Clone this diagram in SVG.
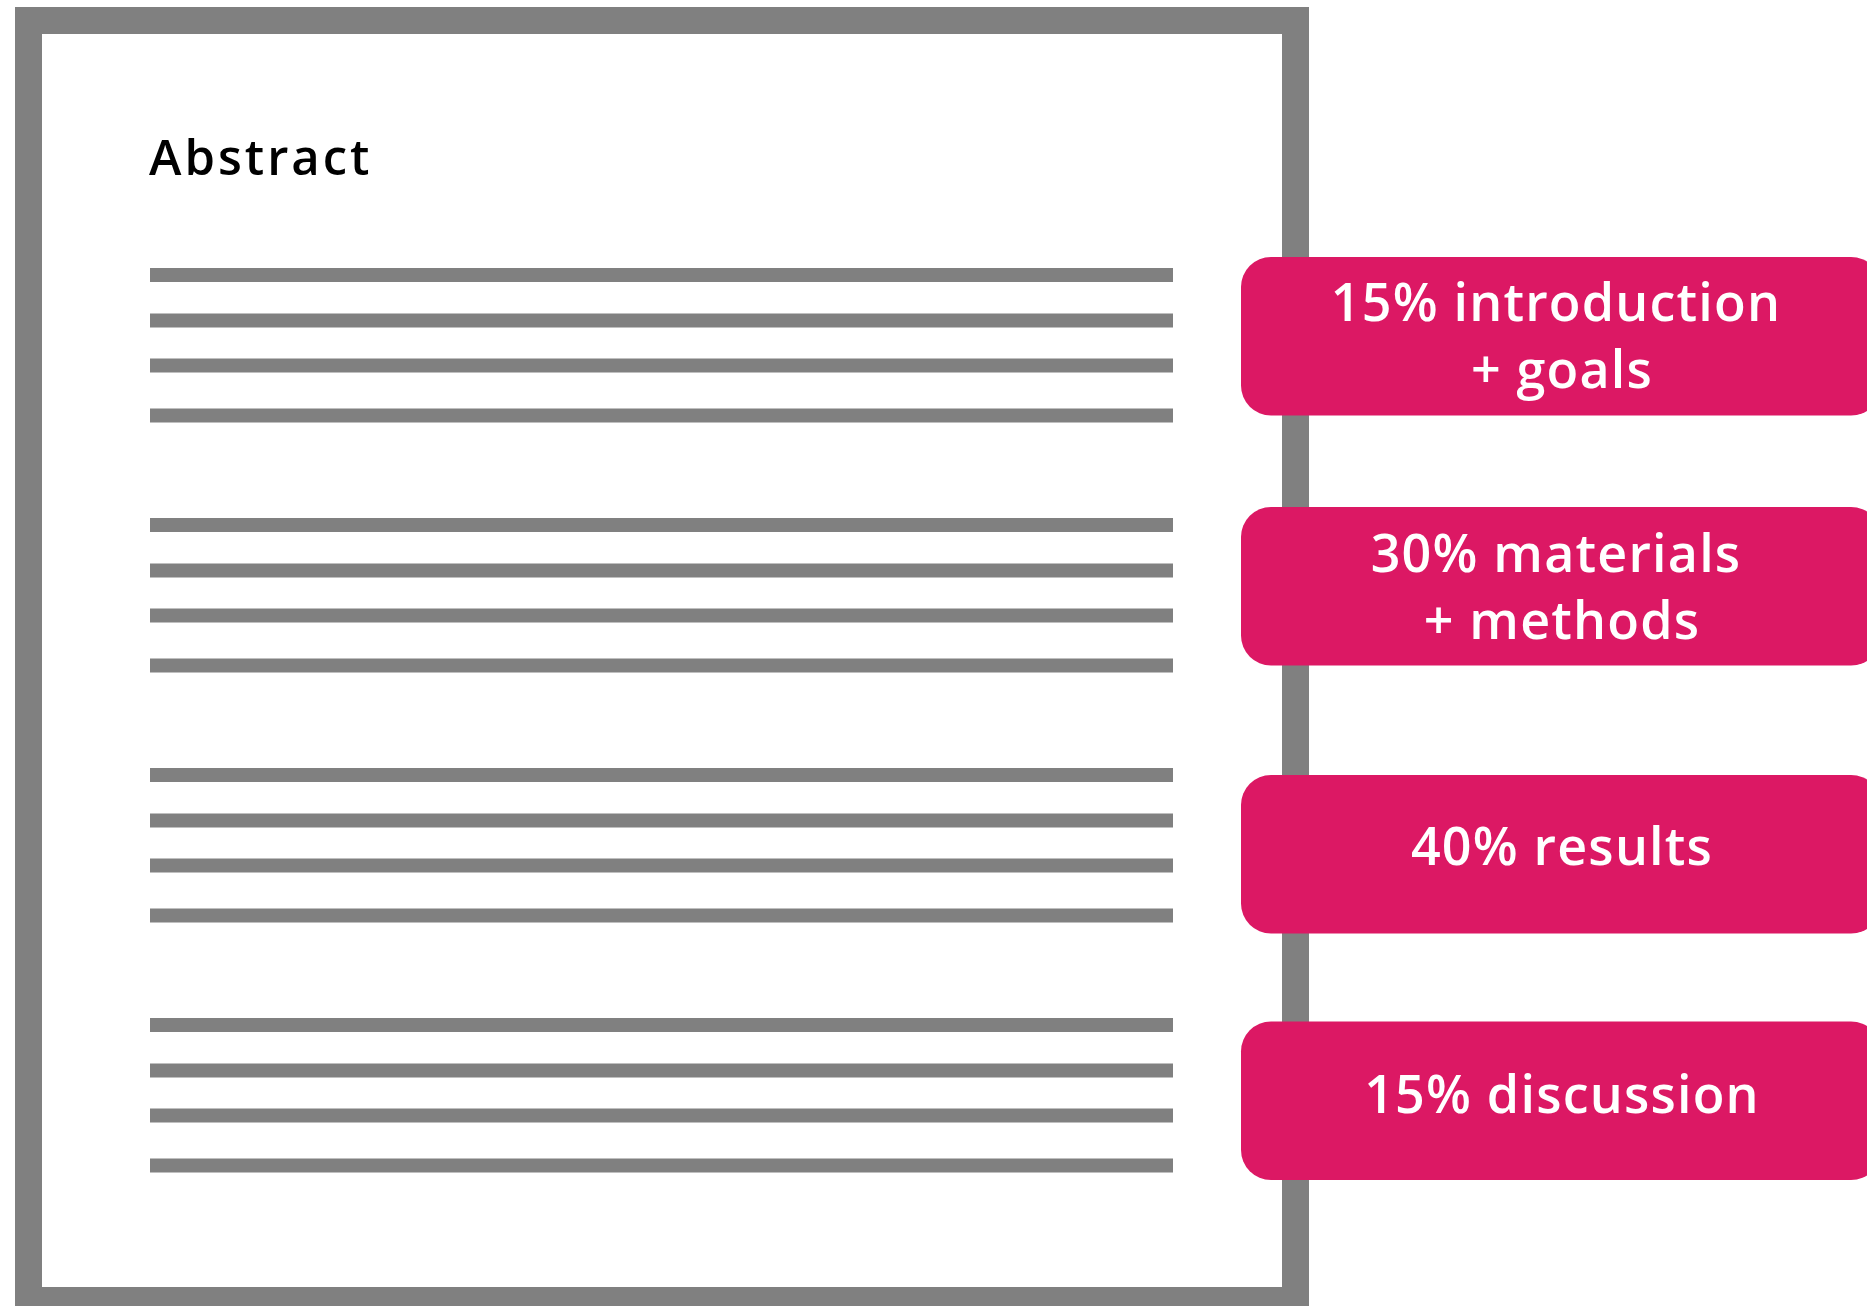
<svg xmlns="http://www.w3.org/2000/svg" width="1867" height="1306" viewBox="0 0 1867 1306">
<style>
.ln{fill:#808080}
.box{fill:#DC1864}
.bt{font-family:"Open Sans","Noto Sans",sans-serif;font-size:52px;font-weight:600;letter-spacing:1.2px;fill:#ffffff;text-anchor:middle}
.ttl{font-family:"Open Sans","Noto Sans",sans-serif;font-size:49px;font-weight:600;letter-spacing:3px;fill:#000000}
</style>
<rect width="1867" height="1306" fill="#ffffff"/>
<g id="page">
<rect x="28.5" y="20.5" width="1267" height="1280" fill="#ffffff" stroke="#808080" stroke-width="27"/>
<text class="ttl" x="149" y="175">Abstract</text>
</g>
<g id="lines">
<rect class="ln" x="150" y="268" width="1023" height="14"/>
<rect class="ln" x="150" y="313.5" width="1023" height="14"/>
<rect class="ln" x="150" y="358.5" width="1023" height="14"/>
<rect class="ln" x="150" y="408.5" width="1023" height="14"/>
<rect class="ln" x="150" y="518" width="1023" height="14"/>
<rect class="ln" x="150" y="563.5" width="1023" height="14"/>
<rect class="ln" x="150" y="608.5" width="1023" height="14"/>
<rect class="ln" x="150" y="658.5" width="1023" height="14"/>
<rect class="ln" x="150" y="768" width="1023" height="14"/>
<rect class="ln" x="150" y="813.5" width="1023" height="14"/>
<rect class="ln" x="150" y="858.5" width="1023" height="14"/>
<rect class="ln" x="150" y="908.5" width="1023" height="14"/>
<rect class="ln" x="150" y="1018" width="1023" height="14"/>
<rect class="ln" x="150" y="1063.5" width="1023" height="14"/>
<rect class="ln" x="150" y="1108.5" width="1023" height="14"/>
<rect class="ln" x="150" y="1158.5" width="1023" height="14"/>
</g>
<g id="box1">
<rect class="box" x="1241" y="257" width="640" height="158.5" rx="30"/>
<text class="bt" x="1556" y="321">15% introduction</text>
<text class="bt" x="1562" y="388">+ goals</text>
</g>
<g id="box2">
<rect class="box" x="1241" y="507" width="640" height="158.5" rx="30"/>
<text class="bt" x="1556" y="572">30% materials</text>
<text class="bt" x="1562" y="639">+ methods</text>
</g>
<g id="box3">
<rect class="box" x="1241" y="775" width="640" height="158.5" rx="30"/>
<text class="bt" x="1562" y="865">40% results</text>
</g>
<g id="box4">
<rect class="box" x="1241" y="1021.5" width="640" height="158.5" rx="30"/>
<text class="bt" x="1562" y="1113">15% discussion</text>
</g>
</svg>
